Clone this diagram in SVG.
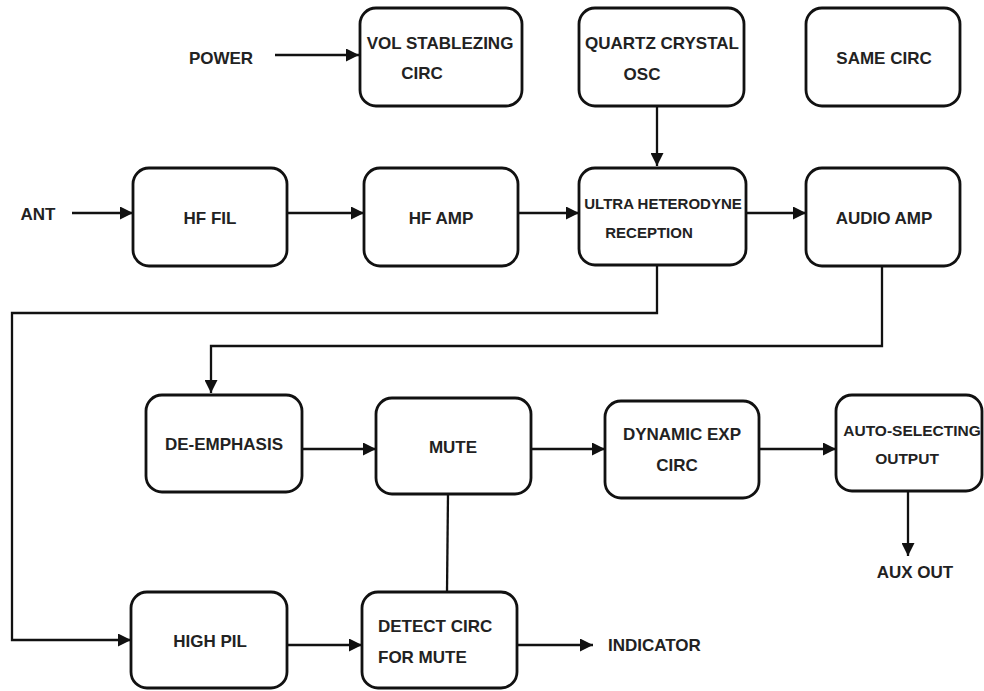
<svg xmlns="http://www.w3.org/2000/svg" width="984" height="691" viewBox="0 0 984 691">
<defs>
<marker id="ah" markerUnits="userSpaceOnUse" markerWidth="13" markerHeight="13" refX="13" refY="6.5" orient="auto">
<path d="M0,0 L13,6.5 L0,13 z" fill="#111"/>
</marker>
<style>
.box{fill:#fff;stroke:#111;stroke-width:2.8}
.t{font-family:"Liberation Sans",Arial,sans-serif;font-weight:bold;font-size:17px;fill:#222}
.m{text-anchor:middle}
.c{fill:none;stroke:#111;stroke-width:2.3}
.a{marker-end:url(#ah)}
</style>
</defs>
<rect width="984" height="691" fill="#fff"/>
<g id="connectors">
<line class="c a" x1="275" y1="55" x2="359" y2="55"/>
<line class="c a" x1="72" y1="213" x2="133" y2="213"/>
<line class="c a" x1="287" y1="213" x2="364" y2="213"/>
<line class="c a" x1="518" y1="213" x2="579" y2="213"/>
<line class="c a" x1="746" y1="213" x2="806" y2="213"/>
<line class="c a" x1="657" y1="106" x2="657" y2="166"/>
<polyline class="c a" points="657,265 657,313 12,313 12,640 131,640"/>
<polyline class="c a" points="882,266 882,346 211,346 211,393"/>
<line class="c a" x1="302" y1="449" x2="376" y2="449"/>
<line class="c a" x1="531" y1="449" x2="605" y2="449"/>
<line class="c a" x1="759" y1="449" x2="836" y2="449"/>
<line class="c a" x1="908" y1="491" x2="908" y2="556"/>
<line class="c" x1="448" y1="494" x2="447" y2="592"/>
<line class="c a" x1="287" y1="645" x2="362" y2="645"/>
<line class="c a" x1="517" y1="645" x2="593" y2="645"/>
</g>
<g id="power"><text class="t m" x="221" y="64">POWER</text></g>
<g id="ant"><text class="t m" x="38" y="220">ANT</text></g>
<g id="vol"><rect class="box" x="360" y="8" width="162" height="98" rx="16"/>
<text class="t m" x="440" y="49">VOL STABLEZING</text><text class="t m" x="422" y="79">CIRC</text></g>
<g id="quartz"><rect class="box" x="579" y="8" width="165" height="98" rx="16"/>
<text class="t m" x="662" y="49">QUARTZ CRYSTAL</text><text class="t m" x="642" y="80">OSC</text></g>
<g id="same"><rect class="box" x="806" y="8" width="154" height="98" rx="16"/>
<text class="t m" x="884" y="64">SAME CIRC</text></g>
<g id="hffil"><rect class="box" x="133" y="168" width="154" height="98" rx="16"/>
<text class="t m" x="210" y="224">HF FIL</text></g>
<g id="hfamp"><rect class="box" x="364" y="168" width="154" height="98" rx="16"/>
<text class="t m" x="441" y="224">HF AMP</text></g>
<g id="ultra"><rect class="box" x="579" y="168" width="167" height="97" rx="16"/>
<text class="t m" x="663" y="209" style="font-size:15px">ULTRA HETERODYNE</text><text class="t m" x="649" y="238" style="font-size:15px">RECEPTION</text></g>
<g id="audio"><rect class="box" x="806" y="168" width="154" height="98" rx="16"/>
<text class="t m" x="884" y="224">AUDIO AMP</text></g>
<g id="deemph"><rect class="box" x="146" y="395" width="156" height="97" rx="16"/>
<text class="t m" x="224" y="450">DE-EMPHASIS</text></g>
<g id="mute"><rect class="box" x="376" y="398" width="155" height="96" rx="16"/>
<text class="t m" x="453" y="453">MUTE</text></g>
<g id="dynamic"><rect class="box" x="605" y="401" width="154" height="97" rx="16"/>
<text class="t m" x="682" y="440">DYNAMIC EXP</text><text class="t m" x="677" y="471">CIRC</text></g>
<g id="auto"><rect class="box" x="836" y="395" width="146" height="96" rx="16"/>
<text class="t m" x="912" y="436" style="font-size:15.5px">AUTO-SELECTING</text><text class="t m" x="907" y="464" style="font-size:15.5px">OUTPUT</text></g>
<g id="auxout"><text class="t m" x="915" y="578">AUX OUT</text></g>
<g id="highpil"><rect class="box" x="131" y="592" width="156" height="96" rx="16"/>
<text class="t m" x="210" y="647">HIGH PIL</text></g>
<g id="detect"><rect class="box" x="362" y="592" width="155" height="96" rx="16"/>
<text class="t" x="378" y="632">DETECT CIRC</text><text class="t" x="378" y="663">FOR MUTE</text></g>
<g id="indicator"><text class="t" x="608" y="651">INDICATOR</text></g>
</svg>
